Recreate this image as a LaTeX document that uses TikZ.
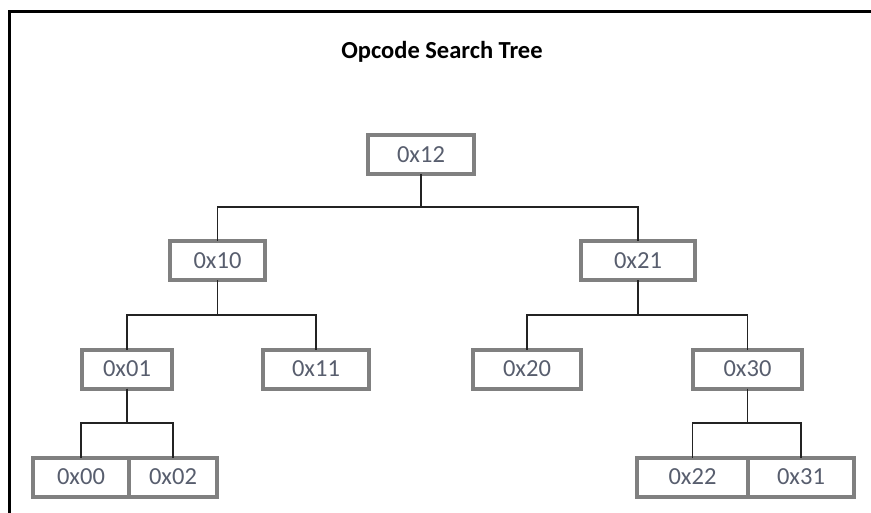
\documentclass[tikz,border=0pt]{standalone}
\usepackage{fontspec}
\setmainfont{Carlito}
\usetikzlibrary{calc}
\definecolor{boxline}{RGB}{128,128,128}
\definecolor{boxtext}{RGB}{88,94,110}
\definecolor{wire}{RGB}{35,35,35}
\begin{document}
\begin{tikzpicture}[x=1pt,y=-1pt,
  opnode/.style={draw=boxline,line width=4pt,fill=white,
    minimum height=39pt,inner sep=0pt,outer sep=0pt,
    font=\fontsize{24.5}{28}\selectfont,text=boxtext},
  wireline/.style={draw=wire,line width=1.6pt}]
  \useasboundingbox (0,0) rectangle (871,512);
  \fill[white] (0,0) rectangle (871,512);
  % outer frame (top and left edges)
  \draw[line width=3pt,black] (9,600) -- (9,11.5) -- (900,11.5);
  \node[font=\bfseries\fontsize{24.5}{28}\selectfont,anchor=base,inner sep=0pt] (title) at (442,58) {Opcode Search Tree};

  % bars of the connectors
  \coordinate (bar1) at (0,207);
  \coordinate (bar2) at (0,315);
  \coordinate (bar3) at (0,423);

  % nodes
  \node[opnode,minimum width=106pt] (n12) at (421,154.5) {0x12};
  \node[opnode,minimum width=95pt]  (n10) at (217.5,260.5) {0x10};
  \node[opnode,minimum width=114pt] (n21) at (638,260.5) {0x21};
  \node[opnode,minimum width=90pt]  (n01) at (127,369) {0x01};
  \node[opnode,minimum width=106pt] (n11) at (316,369) {0x11};
  \node[opnode,minimum width=108pt] (n20) at (527,369) {0x20};
  \node[opnode,minimum width=109pt] (n30) at (747.5,369) {0x30};
  \node[opnode,minimum width=96pt]  (n00) at (81,477) {0x00};
  \node[opnode,minimum width=88pt]  (n02) at (173,477) {0x02};
  \node[opnode,minimum width=111pt] (n22) at (692.5,477) {0x22};
  \node[opnode,minimum width=106pt] (n31) at (801,477) {0x31};

  % connectors
  \draw[wireline] (n12.south) |- (bar1 -| n10.north) -- (n10.north);
  \draw[wireline] (n12.south) |- (bar1 -| n21.north) -- (n21.north);
  \draw[wireline] (n10.south) |- (bar2 -| n01.north) -- (n01.north);
  \draw[wireline] (n10.south) |- (bar2 -| n11.north) -- (n11.north);
  \draw[wireline] (n21.south) |- (bar2 -| n20.north) -- (n20.north);
  \draw[wireline] (n21.south) |- (bar2 -| n30.north) -- (n30.north);
  \draw[wireline] (n01.south) |- (bar3 -| n00.north) -- (n00.north);
  \draw[wireline] (n01.south) |- (bar3 -| n02.north) -- (n02.north);
  \draw[wireline] (n30.south) |- (bar3 -| n22.north) -- (n22.north);
  \draw[wireline] (n30.south) |- (bar3 -| n31.north) -- (n31.north);
\end{tikzpicture}
\end{document}
